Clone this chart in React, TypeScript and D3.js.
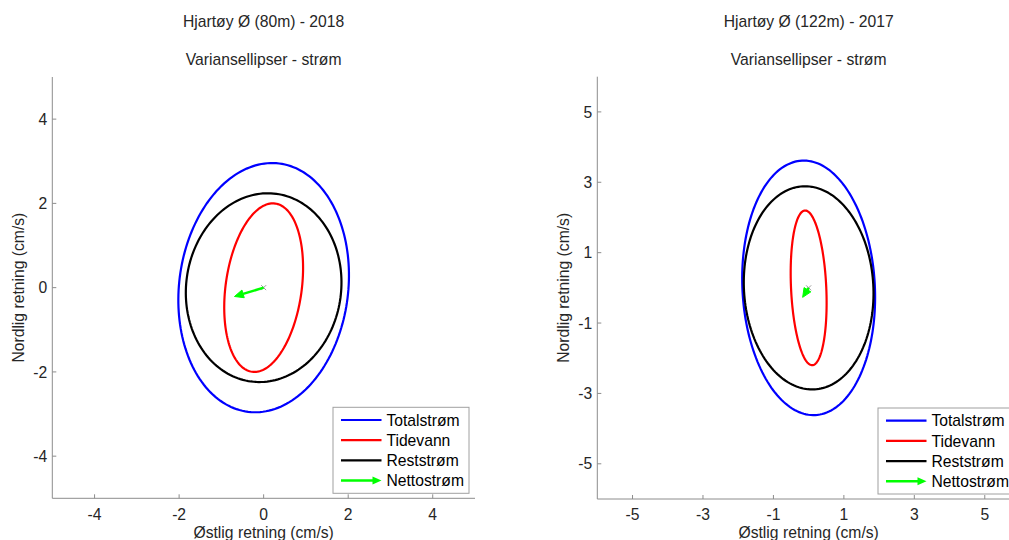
import React from "react";
import * as d3 from "d3";

// ---- data ----
const titles1 = ["Hjartøy Ø (80m) - 2018", "Hjartøy Ø (122m) - 2017"];
const titles2 = ["Variansellipser - strøm", "Variansellipser - strøm"];
const domains = [5, 6];
const ticksLeft = [-4, -2, 0, 2, 4];
const ticksRight = [-5, -3, -1, 1, 3, 5];
const seriesNames = ["Totalstrøm", "Tidevann", "Reststrøm", "Nettostrøm"];
const seriesColors = ["#0000ff", "#ff0000", "#000000", "#00ff00"];
// ellipse params per series: [semi-major, semi-minor, angle from north (deg, clockwise)]
const ellipsesLeft = [
  [2.97, 2.0, 7.1],
  [2.015, 0.9, 7.8],
  [2.247, 1.833, 7.7],
];
const ellipsesRight = [
  [3.62, 1.88, -3.0],
  [2.2, 0.5, -2.7],
  [2.89, 1.837, -3.3],
];
// net current vectors (east, north)
const arrowLeft = [-0.69, -0.21];
const arrowRight = [-0.17, -0.27];

const FONT = "'Liberation Sans', Arial, Helvetica, sans-serif";
const FS = 15.7;

type PanelProps = {
  x0: number; x1: number; y0: number; y1: number;
  dom: number; ticks: number[]; ell: number[][]; arrow: number[];
  t1: string; t2: string;
};

function Panel({ x0, x1, y0, y1, dom, ticks, ell, arrow, t1, t2 }: PanelProps) {
  const xs = d3.scaleLinear().domain([-dom, dom]).range([x0, x1]);
  const ys = d3.scaleLinear().domain([-dom, dom]).range([y1, y0]);
  const cx = xs(0);
  const line = d3.line<[number, number]>().x(d => xs(d[0])).y(d => ys(d[1])).curve(d3.curveLinearClosed);
  const ellPath = (p: number[]) => {
    const [a, b, deg] = p;
    const th = (deg * Math.PI) / 180;
    const u = [Math.sin(th), Math.cos(th)];
    const v = [Math.cos(th), -Math.sin(th)];
    const pts: [number, number][] = d3.range(0, 360, 2).map(k => {
      const t = (k * Math.PI) / 180;
      return [a * Math.cos(t) * u[0] + b * Math.sin(t) * v[0], a * Math.cos(t) * u[1] + b * Math.sin(t) * v[1]];
    });
    return line(pts) as string;
  };
  const arrowShape = (sx: number, sy: number, ex: number, ey: number, hl: number, hw: number) => {
    const dx = ex - sx, dy = ey - sy;
    const L = Math.hypot(dx, dy);
    const ux = dx / L, uy = dy / L;
    const bx = ex - ux * hl, by = ey - uy * hl;
    return {
      shaft: `M${sx},${sy}L${bx},${by}`,
      head: `M${ex},${ey}L${bx - uy * hw},${by + ux * hw}L${bx + uy * hw},${by - ux * hw}Z`,
    };
  };
  const ox = xs(0), oy = ys(0);
  const ar = arrowShape(ox, oy, xs(arrow[0]), ys(arrow[1]), 9, 4);
  const lgW = 136, lgH = 86;
  const lgX = x1 - 6 - lgW, lgY = y1 - 5 - lgH;
  const axisColor = "#8c8c8c";
  return (
    <g fontFamily={FONT} fontSize={FS}>
      <text x={cx} y={26.7} textAnchor="middle" fill="#262626">{t1}</text>
      <text x={cx} y={65} textAnchor="middle" fill="#262626">{t2}</text>
      {/* ellipses */}
      {ell.map((p, i) => (
        <path key={i} d={ellPath(p)} fill="none" stroke={seriesColors[i]} strokeWidth={2.2} />
      ))}
      {/* origin marker */}
      <path d={`M${ox - 2.5},${oy - 2.5}L${ox + 2.5},${oy + 2.5}M${ox - 2.5},${oy + 2.5}L${ox + 2.5},${oy - 2.5}`} stroke="#999" strokeWidth={1} />
      <path d={ar.shaft} stroke={seriesColors[3]} strokeWidth={2.5} fill="none" />
      <path d={ar.head} fill={seriesColors[3]} stroke={seriesColors[3]} strokeWidth={1} />
      {/* axes */}
      <line x1={x0} x2={x0} y1={y0} y2={y1} stroke={axisColor} strokeWidth={1} />
      <line x1={x0} x2={x1} y1={y1} y2={y1} stroke={axisColor} strokeWidth={1} />
      {ticks.map(t => (
        <g key={"x" + t}>
          <line x1={xs(t)} x2={xs(t)} y1={y1} y2={y1 - 4} stroke={axisColor} />
          <text x={xs(t)} y={519.5} textAnchor="middle" fill="#262626">{t}</text>
        </g>
      ))}
      {ticks.map(t => (
        <g key={"y" + t}>
          <line x1={x0} x2={x0 + 4} y1={ys(t)} y2={ys(t)} stroke={axisColor} />
          <text x={x0 - 5} y={ys(t)} dy="0.36em" textAnchor="end" fill="#262626">{t}</text>
        </g>
      ))}
      <text x={cx} y={538} textAnchor="middle" fill="#262626">Østlig retning (cm/s)</text>
      <text transform={`translate(${x0 - 28},${(y0 + y1) / 2}) rotate(-90)`} textAnchor="middle" fill="#262626">Nordlig retning (cm/s)</text>
      {/* legend */}
      <rect x={lgX} y={lgY} width={lgW} height={lgH} fill="#fff" stroke="#a0a0a0" strokeWidth={1} />
      {seriesNames.map((n, i) => {
        const yy = lgY + 12.7 + i * 20.2;
        const lx0 = lgX + 8, lx1 = lgX + 48.5;
        return (
          <g key={n}>
            {i < 3 ? (
              <line x1={lx0} x2={lx1} y1={yy} y2={yy} stroke={seriesColors[i]} strokeWidth={2.2} />
            ) : (
              <g>
                <line x1={lx0} x2={lx1 - 8} y1={yy} y2={yy} stroke={seriesColors[i]} strokeWidth={2.5} />
                <path d={`M${lx1},${yy}L${lx1 - 9},${yy - 4}L${lx1 - 9},${yy + 4}Z`} fill={seriesColors[i]} />
              </g>
            )}
            <text x={lgX + 53.4} y={yy} dy="0.36em" fill="#000">{n}</text>
          </g>
        );
      })}
    </g>
  );
}

export default function App() {
  return (
    <svg width={1009} height={540} style={{ position: "absolute", left: 0, top: 0, background: "#fff" }}>
      <rect x={0} y={0} width={1009} height={540} fill="#fff" />
      <Panel x0={52.3} x1={475} y0={77} y1={498.3} dom={domains[0]} ticks={ticksLeft} ell={ellipsesLeft} arrow={arrowLeft} t1={titles1[0]} t2={titles2[0]} />
      <Panel x0={597.3} x1={1020} y0={76.7} y1={499} dom={domains[1]} ticks={ticksRight} ell={ellipsesRight} arrow={arrowRight} t1={titles1[1]} t2={titles2[1]} />
    </svg>
  );
}
